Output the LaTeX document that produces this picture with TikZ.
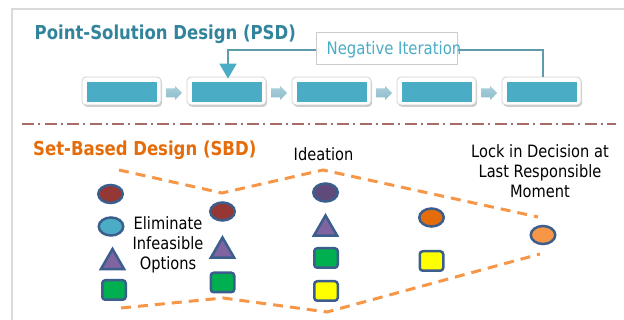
\documentclass[tikz,border=0pt]{standalone}
\usepackage{fontspec}
\setmainfont{DejaVu Sans}[FakeStretch=0.86]
\usetikzlibrary{shapes.geometric,shadows,arrows.meta}
\definecolor{frameg}{HTML}{DADADA}
\definecolor{psdteal}{HTML}{31849B}
\definecolor{boxteal}{HTML}{4BACC6}
\definecolor{negline}{HTML}{5E9CAB}
\definecolor{blockar}{HTML}{A9CFDB}
\definecolor{blockardk}{HTML}{8FBCCB}
\definecolor{sepred}{HTML}{A96A6A}
\definecolor{sbdor}{HTML}{E46C0A}
\definecolor{dashor}{HTML}{F79646}
\definecolor{outl}{HTML}{3B5E8C}
\definecolor{dred}{HTML}{953735}
\definecolor{purp}{HTML}{8064A2}
\definecolor{dpurp}{HTML}{604A7B}
\definecolor{grn}{HTML}{00B050}
\definecolor{yel}{HTML}{FFFF00}
\definecolor{orng}{HTML}{E46C0A}
\definecolor{lorng}{HTML}{F79646}
\tikzset{
  framel/.style={draw=frameg,line width=2.5pt},
  stepbox/.style={draw=frameg!90!gray,line width=0.8pt,fill=white,rounded corners=4pt,
    minimum width=79pt,minimum height=28pt,inner sep=0pt,
    drop shadow={shadow xshift=1.2pt,shadow yshift=-1.8pt,opacity=0.4}},
  innerbar/.style={fill=boxteal,minimum width=70pt,minimum height=20pt,inner sep=0pt},
  blockarrow/.style={top color=blockar,bottom color=blockardk,draw=none},
  neglinestyle/.style={draw=negline,line width=1.8pt},
  negboxstyle/.style={draw=frameg!85!gray,line width=0.8pt,fill=white,minimum width=141pt,
    minimum height=32pt,inner sep=0pt},
  seplinestyle/.style={draw=sepred,line width=1.7pt,dash pattern=on 12pt off 4pt on 2pt off 4.5pt},
  orangedash/.style={draw=dashor,line width=3pt,dash pattern=on 10pt off 7pt},
  shp/.style={draw=outl,line width=2.5pt,inner sep=0pt},
  oval/.style={shp,ellipse,minimum width=24.5pt,minimum height=18pt},
  sq/.style={shp,rounded corners=3pt,minimum width=23.5pt,minimum height=19.5pt},
  tri/.style={shp,regular polygon,regular polygon sides=3,minimum size=27pt},
  body/.style={font=\fontsize{17}{20}\selectfont,align=center,inner sep=0pt},
  ttl/.style={font=\bfseries\fontsize{19.2}{22}\selectfont,inner sep=0pt,anchor=base west}
}
\begin{document}
\begin{tikzpicture}[x=1pt,y=-1pt]
\useasboundingbox (0,0) rectangle (624,320);
% frame
\draw[framel] (12,320) |- (624,9);
% PSD title
\node[ttl,text=psdteal] (psd) at (34.5,39.5) {Point-Solution Design (PSD)};
% boxes
\foreach \i/\x in {1/121.5,2/226.5,3/331.5,4/436.5,5/541.5}{
  \node[stepbox] (b\i) at (\x,91) {};
  \node[innerbar] (r\i) at (\x+0.5,92) {};
}
\foreach \x in {121.5,226.5,331.5,436.5}{
  \path[blockarrow] (\x+44.5,88.5) -- (\x+53.5,88.5) -- (\x+53.5,86) -- (\x+60.5,93)
    -- (\x+53.5,100) -- (\x+53.5,97.5) -- (\x+44.5,97.5) -- cycle;
}
% negative iteration
\draw[neglinestyle,-{Triangle[length=15pt,width=17pt,color=boxteal]},shorten >=-2pt]
  ([xshift=1.5pt]b5.north) |- (228,50) -- ([xshift=1.5pt]b2.north);
\node[negboxstyle] (nb) at (386.5,48) {};
\node[font=\fontsize{17.3}{20}\selectfont,text=boxteal,inner sep=0pt,anchor=base west] (nt) at (326.5,55) {Negative Iteration};
% separator
\coordinate (sepL) at (22,124);
\coordinate (sepR) at (616,124);
\draw[seplinestyle] (sepL) -- (sepR);
% SBD title
\node[ttl,text=sbdor] (sbd) at (33,155.7) {Set-Based Design (SBD)};
% dashed funnel
\coordinate (u1) at (119,170);
\coordinate (u2) at (222,193);
\coordinate (u3) at (323,170);
\coordinate (u4) at (538,217);
\coordinate (l1) at (121,308);
\coordinate (l2) at (223,298);
\coordinate (l3) at (327,312);
\coordinate (l4) at (540,254);
\draw[orangedash] (u1) -- (u2) -- (u3) -- (u4);
\draw[orangedash] (l1) -- (l2) -- (l3) -- (l4);
% column 1
\node[oval,fill=dred] (c1a) at (110.5,194) {};
\node[oval,fill=boxteal] (c1b) at (111,226.5) {};
\node[tri,fill=purp] (c1c) at (112.5,262.5) {};
\node[sq,fill=grn] (c1d) at (114,290) {};
% column 2
\node[oval,fill=dred] (c2a) at (222.5,211.5) {};
\node[tri,fill=purp] (c2b) at (222.5,251) {};
\node[sq,fill=grn] (c2c) at (222.5,282.5) {};
% column 3
\node[oval,fill=dpurp] (c3a) at (325.5,192.5) {};
\node[tri,fill=purp] (c3b) at (325.5,229) {};
\node[sq,fill=grn] (c3c) at (326,258) {};
\node[sq,fill=yel] (c3d) at (326,291) {};
% column 4
\node[oval,fill=orng] (c4a) at (431.5,217.5) {};
\node[sq,fill=yel] (c4b) at (431.5,261) {};
% column 5
\node[oval,fill=lorng] (c5a) at (543,235) {};
% texts
\node[body,anchor=base] (elim) at (168,270) {Eliminate\\Infeasible\\Options};
\node[body,anchor=base] (idea) at (323.5,160.7) {Ideation};
\node[body,anchor=base] (lock) at (540,198) {Lock in Decision at\\Last Responsible\\Moment};
\end{tikzpicture}
\end{document}
